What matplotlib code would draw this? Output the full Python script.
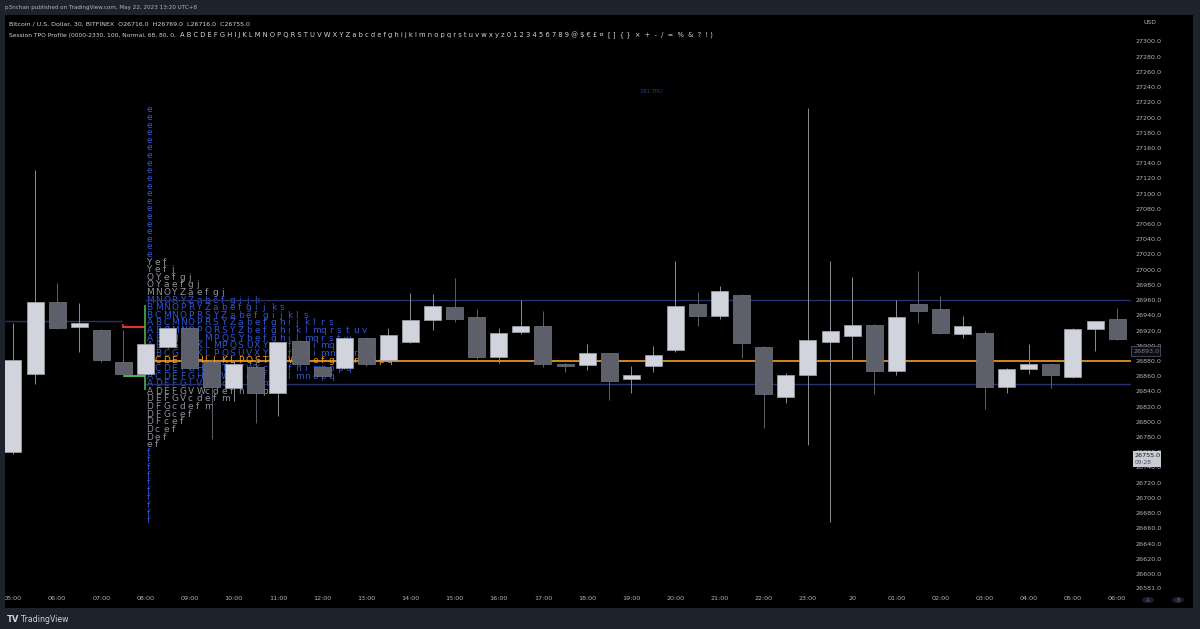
import matplotlib.pyplot as plt
from matplotlib.patches import Rectangle, Circle
from matplotlib.transforms import blended_transform_factory
import numpy as np

W, H = 1200, 629

# 30-minute BTCUSD candles, 05:00 -> 06:30 (next day)
opens = [26760, 26863, 26957, 26924, 26921, 26879, 26863, 26899, 26923, 26878,
         26845, 26872, 26838, 26906, 26872, 26871, 26910, 26881, 26905, 26934,
         26951, 26938, 26885, 26918, 26926, 26876, 26875, 26890, 26856, 26874,
         26894, 26955, 26939, 26967, 26898, 26832, 26862, 26905, 26913, 26927,
         26867, 26955, 26948, 26916, 26917, 26846, 26870, 26876, 26859, 26922,
         26935, 26909]
highs = [26930, 27131, 26982, 26956, 26922, 26921, 26904, 26925, 26925, 26882,
         26881, 26882, 26905, 26908, 26875, 26912, 26911, 26923, 26969, 26968,
         26989, 26948, 26923, 26960, 26946, 26877, 26902, 26891, 26874, 26900,
         27011, 26971, 26979, 26968, 26900, 26864, 27212, 27012, 26990, 26929,
         26960, 26998, 26965, 26939, 26920, 26871, 26902, 26877, 26923, 26933,
         26949, 26912]
lows = [26758, 26850, 26922, 26892, 26879, 26860, 26861, 26897, 26869, 26778,
        26828, 26798, 26808, 26874, 26857, 26869, 26874, 26879, 26904, 26921,
        26931, 26883, 26877, 26916, 26872, 26865, 26868, 26829, 26838, 26866,
        26892, 26926, 26935, 26884, 26792, 26825, 26770, 26668, 26883, 26836,
        26861, 26930, 26915, 26910, 26817, 26838, 26863, 26844, 26857, 26893,
        26907, 26890]
closes = [26881, 26957, 26923, 26930, 26881, 26863, 26902, 26923, 26871, 26846,
          26876, 26838, 26905, 26876, 26860, 26910, 26876, 26914, 26934, 26952,
          26935, 26885, 26917, 26926, 26876, 26873, 26890, 26854, 26862, 26888,
          26952, 26939, 26972, 26904, 26836, 26862, 26907, 26919, 26927, 26867,
          26938, 26946, 26917, 26926, 26846, 26870, 26876, 26862, 26922, 26932,
          26909, 26893]

time_labels = ["05:00", "06:00", "07:00", "08:00", "09:00", "10:00", "11:00", "12:00",
               "13:00", "14:00", "15:00", "16:00", "17:00", "18:00", "19:00", "20:00",
               "21:00", "22:00", "23:00", "20", "01:00", "02:00", "03:00", "04:00",
               "05:00", "06:00"]

# TPO profile rows, top to bottom, one row per 10 USD
tpo_top = 27210
tpo_step = 10
tpo_rows = (["e"] * 20 +
            ["Yef", "Yefj", "OYefgj", "OYaefgj", "MNOYZaefgj", "MNORYZabefgijk",
             "BMNOPRYZabefgijks", "BCMNOPRSYZabefgijkls", "ABCMNOPRSYZabefghijklrs",
             "ABCMNOPQRSYZbefghiklmqrstuv", "ABCHIKLMPQSYbefghilmqrstu",
             "ABCGHIKLMPQSUXYcefghimqrs", "ABCGHIKLPQSUVXYcefghimnpqr",
             "BCDEFGHIJKLPQSTUVWXcefghimnopq", "ACDEFGHJKTUVWXcdefhimnopq",
             "ACDEFGHIVWXcdefhilmnopq", "ADEFGIVWcdefhimnp", "ADEFGVWcdefhimp",
             "DEFGVcdefm", "DFGcdefm", "DFGcef", "DFcef", "Dcef", "Def", "ef"] +
            ["f"] * 10)
poc = 26880
vah = 26960
val = 26850
prev_vah = 26932
ib_high, ib_low = 26953, 26842
open_mark, close_mark = 26924, 26860
session_start = 6  # 08:00 bar

BG = "#1e222d"
LIGHT = "#d1d4dc"
DARK = "#5d606b"
TXT = "#b2b5be"
BLUE_TXT = "#2f55d4"
GRAY_TXT = "#8f929b"
ORANGE = "#f5a01e"
VA_LINE = "#283070"


def px(x, y):
    return x / W, 1 - y / H


fig = plt.figure(figsize=(W / 100, H / 100), dpi=100, facecolor=BG)
fig.add_artist(Rectangle(px(5, 608), 1188 / W, 593 / H, transform=fig.transFigure,
                         facecolor="black", edgecolor="none", zorder=-1))

ax = fig.add_axes([5 / W, (H - 590) / H, 1126 / W, 575 / H])
ax.set_facecolor("none")
ax.set_xlim(-0.36, 50.63)
ax.set_ylim(26578.9, 27334.8)
for s in ax.spines.values():
    s.set_visible(False)

# candles
xs = np.arange(len(opens))
o, h, l, c = map(np.array, (opens, highs, lows, closes))
up = c >= o
body_col = np.where(up, LIGHT, DARK)
edge_col = np.where(up, "#a3a6af", "#74777f")
wick_col = np.where(up, "#8a8d96", "#5d606b")
ax.vlines(xs, l, h, colors=wick_col, linewidth=0.7, zorder=4)
ax.bar(xs, np.maximum(np.abs(c - o), 1.5), bottom=np.minimum(o, c), width=0.77,
       color=body_col, edgecolor=edge_col, linewidth=0.5, zorder=5)

# TPO letters
letter_step = 0.375
for r, row in enumerate(tpo_rows):
    price = tpo_top - r * tpo_step
    if price == poc:
        col = ORANGE
    elif val <= price <= vah or len(row) == 1:
        col = BLUE_TXT
    else:
        col = GRAY_TXT
    for j, ch in enumerate(row):
        ax.text(session_start + 0.05 + j * letter_step, price, ch, color=col,
                fontsize=6.5, ha="left", va="center", zorder=2)

# profile lines
ax.hlines([vah, val], session_start, 50.63, colors=VA_LINE, linewidth=1, zorder=3)
ax.hlines(poc, session_start + 0.2, 50.63, colors=ORANGE, linewidth=1.2, zorder=3)
ax.hlines(prev_vah, -0.36, 4.95, colors=VA_LINE, linewidth=1, zorder=3)
ax.hlines(open_mark, session_start - 1, session_start, colors="#e0302f", linewidth=1.5, zorder=3)
ax.vlines(session_start - 1, open_mark - 1, open_mark + 5, colors="#e0302f", linewidth=1.2, zorder=3)
ax.hlines(close_mark, session_start - 1, session_start, colors="#4caf50", linewidth=1.5, zorder=3)
ax.vlines(session_start, ib_low, ib_high, colors="#4caf50", linewidth=1.2, zorder=4.5)

ax.text(28.9, 27234, "381 TPO", color="#2a3b8f", fontsize=3.8, ha="center", va="center")

# axes ticks
ax.set_xticks(np.arange(0, 51, 2))
ax.set_xticklabels(time_labels)
ax.set_yticks(np.arange(26600, 27301, 20))
ax.set_yticklabels([f"{v:.1f}" for v in np.arange(26600, 27301, 20)])
ax.yaxis.tick_right()
ax.tick_params(axis="x", length=0, pad=4.5, labelsize=4.6, colors=TXT)
ax.tick_params(axis="y", length=0, pad=3.6, labelsize=4.6, colors=TXT)
for lab in ax.get_yticklabels():
    lab.set_horizontalalignment("left")

yb = blended_transform_factory(fig.transFigure, ax.transData)
ax.text(1136 / W, 26581, "26581.0", transform=yb, color=TXT, fontsize=4.6,
        va="center", ha="left", clip_on=False)

# price labels on the scale
ax.add_patch(Rectangle((1131 / W, 26886), 29 / W, 14, transform=yb, facecolor="#0c0e14",
                       edgecolor="#50535e", linewidth=0.6, clip_on=False, zorder=6))
ax.text(1134 / W, 26893, "26893.0", transform=yb, color="#787b86", fontsize=4.6,
        va="center", ha="left", clip_on=False, zorder=7)
ax.add_patch(Rectangle((1133 / W, 26741), 28 / W, 21, transform=yb, facecolor="#c9ccd4",
                       edgecolor="none", clip_on=False, zorder=6))
ax.text(1135 / W, 26756, "26755.0", transform=yb, color="#131722", fontsize=4.6,
        va="center", ha="left", clip_on=False, zorder=7)
ax.text(1135 / W, 26746, "09:28", transform=yb, color="#50535e", fontsize=4.2,
        va="center", ha="left", clip_on=False, zorder=7)

# frame strips above the axes
fig.add_artist(Rectangle((0, 0), 5 / W, 1, transform=fig.transFigure,
                         facecolor=BG, edgecolor="none", zorder=10))
fig.add_artist(Rectangle(px(1193, 629), 7 / W, 1, transform=fig.transFigure,
                         facecolor=BG, edgecolor="none", zorder=10))

# header and legend
fig.text(*px(5, 7), "p3nchan published on TradingView.com, May 22, 2023 13:20 UTC+8",
         color=TXT, fontsize=4.1, va="center", zorder=11)
fig.text(*px(9, 24), "Bitcoin / U.S. Dollar, 30, BITFINEX  O26716.0  H26769.0  L26716.0  C26755.0",
         color=LIGHT, fontsize=4.5, va="center", zorder=11)
prefix = fig.text(*px(9, 35), "Session TPO Profile (0000-2330, 100, Normal, 68, 80, 0,",
                  color=LIGHT, fontsize=4.3, va="center", zorder=11)
fig.canvas.draw()
pre_end = prefix.get_window_extent().x1
letters = " ".join("ABCDEFGHIJKLMNOPQRSTUVWXYZabcdefghijklmnopqrstuvwxyz0123456789")
fig.text((pre_end + 4) / W, 1 - 35 / H,
         letters + " @ $ € £ ¤  [ ]  { }  ×  +  -  /  =  %  &  ?  ! )",
         color=LIGHT, fontsize=4.9, va="center", zorder=11)
fig.text(*px(1143, 22), "USD", color=TXT, fontsize=4.4, va="center", zorder=11)

for cx, t in [(1148, "A"), (1178, "B")]:
    fig.add_artist(Circle(px(cx, 600), 6 / W, transform=fig.transFigure,
                          facecolor="#1c1f29", edgecolor="none", zorder=11))
    fig.text(*px(cx, 600), t, color="#6a6d78", fontsize=4, ha="center", va="center", zorder=12)

fig.text(*px(7, 619), "TV", color=LIGHT, fontsize=6, fontweight="bold", va="center", zorder=11)
fig.text(*px(21, 619), "TradingView", color=LIGHT, fontsize=5.6, va="center", zorder=11)

fig.savefig("out.png", dpi=100, facecolor=BG)
